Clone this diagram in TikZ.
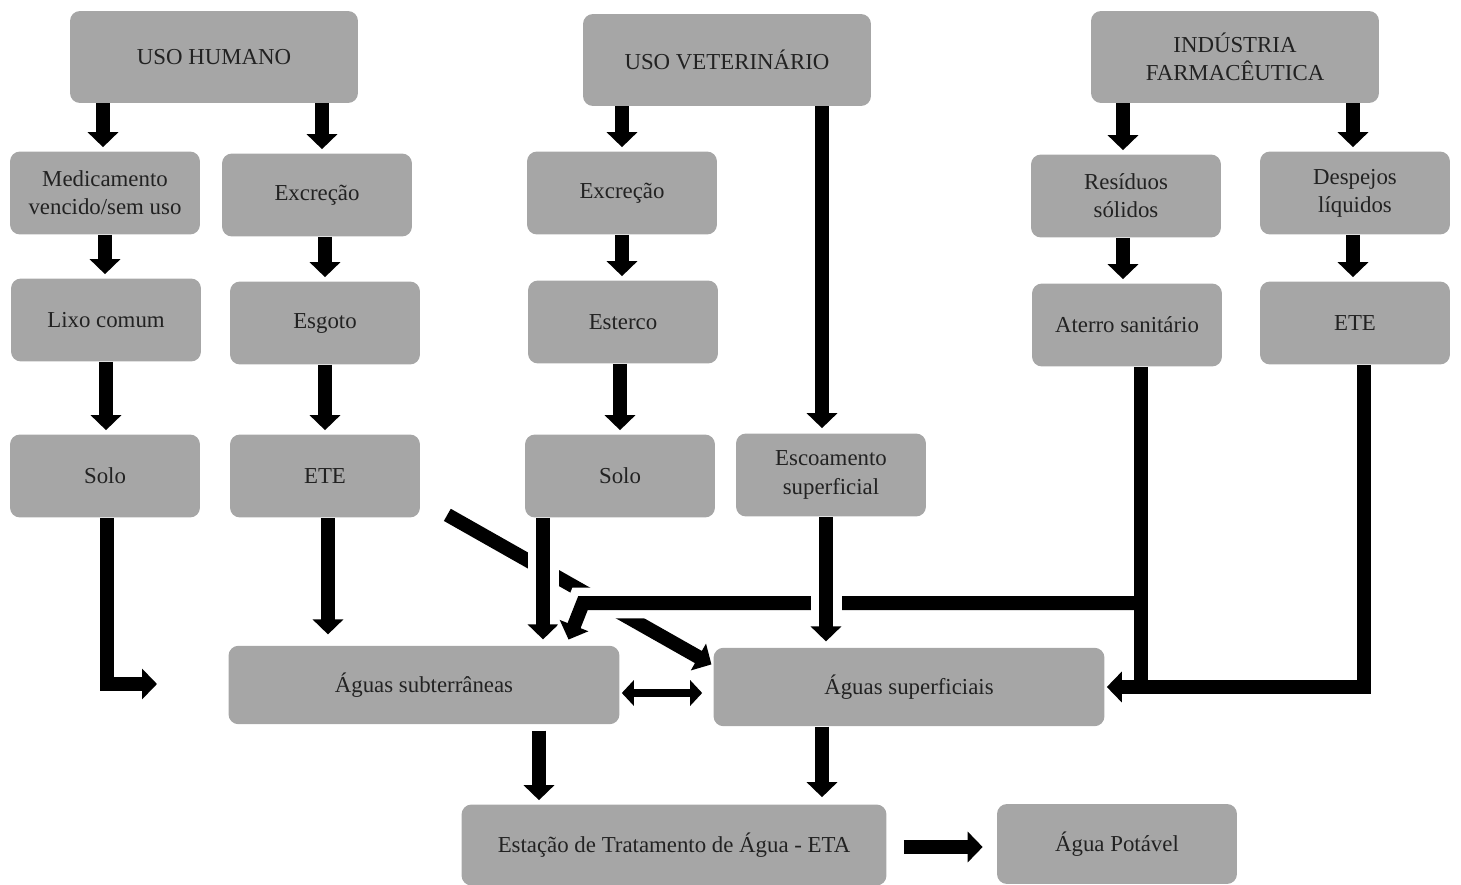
\documentclass[tikz,border=0pt]{standalone}
\usepackage{fontspec}
\setmainfont{Liberation Serif}
\usetikzlibrary{arrows.meta}
\definecolor{boxgray}{HTML}{A6A6A6}
\definecolor{inkgray}{HTML}{222222}
\pgfdeclarelayer{back}
\pgfsetlayers{back,main}

\begin{document}
\begin{tikzpicture}[x=0.02cm, y=-0.02cm,
  box/.style={fill=boxgray, rounded corners=0.2cm, align=center, inner sep=2pt, minimum width=3.8cm, minimum height=1.66cm, text=inkgray, font=\fontsize{13}{16}\selectfont},
  topbox/.style={box, minimum width=5.76cm, minimum height=1.84cm},
  waterbox/.style={box, minimum width=7.82cm, minimum height=1.57cm},
  arr/.style={line width=0.28cm, shorten >=0.08cm, -{Triangle[length=0.3cm, width=0.6cm]}},
  bar/.style={line width=0.28cm},
  dbl/.style={line width=0.16cm, {Triangle[length=0.24cm, width=0.5cm]}-{Triangle[length=0.24cm, width=0.5cm]}},
  halo/.style={preaction={draw=white, line width=0.62cm, -}}]

\useasboundingbox (0,0) rectangle (1461,885);

\node[topbox] (uh) at (214,57) {USO HUMANO};
\node[topbox] (uv) at (727,60) {USO VETERINÁRIO};
\node[topbox] (ind) at (1235,57) {INDÚSTRIA\\FARMACÊUTICA};

\node[box] (med) at (105,193) {Medicamento\\vencido/sem uso};
\node[box] (excH) at (317,195) {Excreção};
\node[box] (excV) at (622,193) {Excreção};
\node[box] (res) at (1126,196) {Resíduos\\sólidos};
\node[box] (desp) at (1355,193) {Despejos\\líquidos};

\node[box] (lixo) at (106,320) {Lixo comum};
\node[box] (esg) at (325,323) {Esgoto};
\node[box] (est) at (623,322) {Esterco};
\node[box] (ater) at (1127,325) {Aterro sanitário};
\node[box] (eteI) at (1355,323) {ETE};

\node[box] (soloH) at (105,476) {Solo};
\node[box] (eteH) at (325,476) {ETE};
\node[box] (soloV) at (620,476) {Solo};
\node[box] (esc) at (831,475) {Escoamento\\superficial};

\node[waterbox] (aSub) at (424,685) {Águas subterrâneas};
\node[waterbox] (aSup) at (909,687) {Águas superficiais};

\node[box, minimum width=8.5cm, minimum height=1.62cm] (eta) at (674,845) {Estação de Tratamento de Água - ETA};
\node[box, minimum width=4.8cm, minimum height=1.6cm] (pot) at (1117,844) {Água Potável};

\coordinate (soloEnd) at (157,684);
\coordinate (split) at (1141,603);
\coordinate (bend) at (583,603);

\begin{pgfonlayer}{back}
\draw[arr] ([xshift=-0.04cm]uh.south -| med.north) -- ([xshift=-0.04cm]med.north);
\draw[arr] ([xshift=0.1cm]uh.south -| excH.north) -- ([xshift=0.1cm]excH.north);
\draw[arr] (med.south) -- (med.south |- lixo.north);
\draw[arr] (esg.north |- excH.south) -- (esg.north);
\draw[arr] (lixo.south) -- (lixo.south |- soloH.north);
\draw[arr] (esg.south) -- (eteH.north);
\draw[arr, shorten >=0] ([xshift=0.04cm]soloH.south) |- (soloEnd);
\draw[arr, shorten >=0.22cm] ([xshift=0.06cm]eteH.south) -- ([xshift=0.06cm]eteH.south |- aSub.north);

\draw[arr] (uv.south -| excV.north) -- (excV.north);
\draw[arr] (excV.south) -- (excV.south |- est.north);
\draw[arr] (soloV.north |- est.south) -- (soloV.north);
\draw[arr, shorten >=0.1cm] ([xshift=-0.18cm]esc.north |- uv.south) -- ([xshift=-0.18cm]esc.north);

\draw[arr] ([xshift=-0.06cm]ind.south -| res.north) -- ([xshift=-0.06cm]res.north);
\draw[arr] ([xshift=-0.04cm]ind.south -| desp.north) -- ([xshift=-0.04cm]desp.north);
\draw[arr] ([xshift=-0.06cm]res.south) -- ([xshift=-0.06cm]res.south |- ater.north);
\draw[arr] ([xshift=-0.04cm]desp.south) -- ([xshift=-0.04cm]eteI.north);

\draw[arr, shorten >=0.04cm] ([shift={(0.54cm,0.06cm)}]eteH.south east) -- ([yshift=-0.36cm]aSup.north west);
\draw[arr, halo, shorten >=0.12cm] ([xshift=-1.54cm]soloV.south) -- ([xshift=-1.54cm]soloV.south |- aSub.north);
\draw[arr, halo, shorten >=0.04cm] (split) -- (bend) -- ([shift={(-1.04cm,0.08cm)}]aSub.north east);
\draw[arr, halo, shorten >=0.12cm] ([xshift=-0.1cm]esc.south) -- ([xshift=-0.1cm]esc.south |- aSup.north);
\draw[bar] ([xshift=0.28cm]ater.south) -- ([xshift=0.28cm]ater.south |- aSup.east);
\draw[arr, shorten >=0.04cm] ([xshift=0.18cm]eteI.south) |- (aSup.east);

\draw[dbl, shorten <=0.04cm, shorten >=0.22cm] ([yshift=-0.16cm]aSub.east) -- ([yshift=-0.16cm]aSub.east -| aSup.west);
\draw[arr] ([shift={(2.3cm,-0.12cm)}]aSub.south) -- ([xshift=2.3cm]aSub.south |- eta.north);
\draw[arr, shorten >=0.14cm] ([xshift=-1.74cm]aSup.south) -- ([xshift=-1.74cm]aSup.south |- eta.north);
\draw[arr, shorten <=0.34cm, shorten >=0.28cm] ([yshift=-0.04cm]eta.east) -- ([yshift=-0.04cm]eta.east -| pot.west);
\end{pgfonlayer}
\end{tikzpicture}
\end{document}
